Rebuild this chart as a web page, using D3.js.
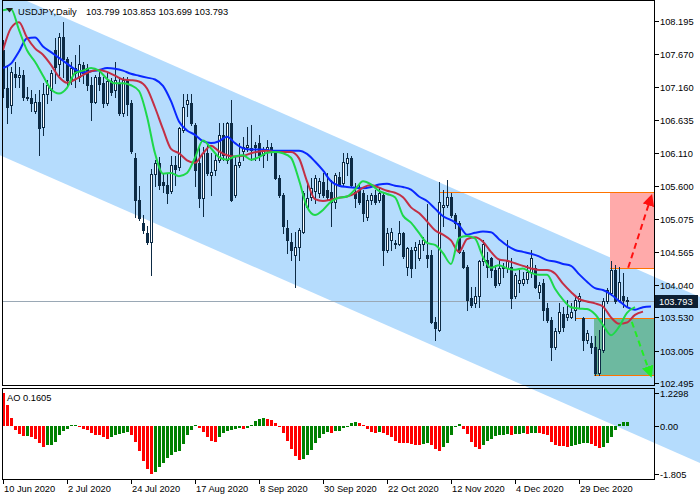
<!DOCTYPE html>
<html>
<head>
<meta charset="utf-8">
<script src="https://cdn.jsdelivr.net/npm/d3@7"></script>
<style>
  body { margin: 0; background: #fff; }
  svg { display: block; font-family: "Liberation Sans", Arial, sans-serif; font-size: 9.3px; }
</style>
</head>
<body>
<div id="chart"></div>
<script>
// USDJPY daily bars, 10 Jun 2020 .. mid Jan 2021 (one value per bar)
const open = [
  107.73,107.13,106.87,107.35,107.31,107.34,107.00,106.98,106.77,106.92,
  106.53,107.05,107.10,107.73,107.52,107.94,107.60,107.26,107.45,107.31,
  107.50,107.45,107.18,106.92,107.31,107.21,106.90,107.24,107.10,107.21,
  106.74,107.26,106.90,106.03,105.38,105.01,104.85,104.72,105.79,105.95,
  105.66,105.61,105.51,105.93,105.90,106.48,106.88,106.90,106.555,105.95,
  105.40,106.11,105.77,105.85,106.00,106.40,106.00,106.58,105.45,105.93,
  106.14,106.21,106.19,106.24,106.27,106.08,106.16,106.21,106.14,105.72,
  105.45,104.93,104.72,104.51,104.64,104.88,105.27,105.43,105.51,105.48,
  105.66,105.53,105.50,105.35,105.74,105.64,105.95,106.03,105.50,105.53,
  105.48,105.11,105.38,105.45,105.38,105.45,104.59,104.75,104.70,104.69,
  104.85,104.33,104.59,104.59,104.46,104.69,104.51,104.51,103.46,103.33,
  105.27,105.30,105.43,105.14,105.01,104.56,104.33,103.83,103.75,103.86,
  104.41,104.43,104.46,104.275,104.07,104.30,104.30,104.33,103.86,104.07,
  104.07,104.14,104.25,104.30,103.93,104.07,103.67,103.49,103.07,103.31,
  103.59,103.54,103.54,103.65,103.78,103.52,103.17,103.12,103.07,102.65,
  103.02,103.78,103.91,104.275,103.80,103.86,103.799
];
const high = [
  107.89,107.50,107.47,107.55,107.47,107.42,107.16,107.11,107.05,107.11,
  107.21,107.26,107.42,107.92,108.00,108.18,107.63,107.55,107.66,107.81,
  107.55,107.52,107.31,107.34,107.40,107.31,107.37,107.29,107.55,107.29,
  107.31,107.31,106.95,106.11,105.59,105.14,104.96,105.87,106.00,106.05,
  105.80,105.80,106.06,106.06,106.53,107.05,107.05,107.05,106.58,106.21,
  106.21,106.24,106.11,106.11,106.58,106.58,106.61,106.95,106.06,106.27,
  106.37,106.53,106.555,106.29,106.40,106.21,106.32,106.27,106.16,105.77,
  105.48,105.06,104.85,104.88,104.93,105.51,105.64,105.72,105.77,105.72,
  105.80,105.80,105.69,105.80,105.82,106.11,106.11,106.06,105.64,105.64,
  105.53,105.45,105.48,105.53,105.56,105.48,104.93,104.93,104.74,105.04,
  104.88,104.64,104.64,104.72,104.75,104.80,105.32,104.59,103.54,105.66,
  105.53,105.69,105.48,105.17,105.04,104.59,104.35,104.01,104.01,104.43,
  104.75,104.56,104.485,104.35,104.43,104.38,104.75,104.46,104.22,104.30,
  104.25,104.35,104.59,104.35,104.09,104.14,103.75,103.54,103.36,103.75,
  103.70,103.80,103.75,103.86,103.91,103.54,103.33,103.23,103.23,103.33,
  103.83,103.99,104.41,104.35,104.33,104.22,103.853
];
const low = [
  107.00,106.58,106.74,107.16,107.16,106.95,106.95,106.77,106.74,106.08,
  106.40,106.90,106.95,107.21,107.34,107.31,107.16,107.20,107.16,107.24,
  107.21,107.11,106.63,106.90,107.10,106.84,106.87,107.03,107.00,106.71,
  106.69,106.71,106.11,105.11,105.06,104.85,104.69,104.20,105.59,105.55,
  105.50,105.33,105.48,105.61,105.85,106.45,106.69,106.555,105.59,105.27,
  105.12,105.77,105.45,105.77,105.98,106.00,105.95,105.36,105.43,105.90,
  106.00,106.14,106.00,106.00,106.00,105.90,106.00,106.08,105.70,105.42,
  104.85,104.54,104.43,104.01,104.43,104.85,105.25,105.38,105.33,105.43,
  105.43,105.38,104.96,105.25,105.59,105.61,105.77,105.59,105.27,105.32,
  105.04,105.06,105.32,105.32,105.35,104.35,104.56,104.59,104.62,104.67,
  104.46,104.20,104.17,104.30,104.43,104.59,104.33,103.44,103.18,103.31,
  104.96,105.27,105.11,104.93,104.54,104.30,103.65,103.70,103.70,103.70,
  104.35,104.17,104.17,104.01,104.04,104.17,104.25,103.67,103.83,103.93,
  104.04,104.07,104.17,103.99,103.83,103.49,103.46,102.86,103.04,103.28,
  103.31,103.49,103.52,103.49,103.70,103.02,103.12,102.97,102.62,102.62,
  102.99,103.75,103.88,103.75,103.78,103.70,103.699
];
const close = [
  107.13,106.84,107.39,107.31,107.34,107.00,106.98,106.90,106.92,106.50,
  107.05,107.18,107.37,107.47,107.94,107.60,107.26,107.45,107.37,107.52,
  107.38,107.18,106.92,107.31,107.20,106.90,107.24,107.08,107.26,106.74,
  107.26,106.88,106.14,105.38,105.09,104.90,104.72,105.79,105.95,105.61,
  105.61,105.48,105.93,105.87,106.50,106.84,106.95,106.58,105.85,105.40,
  106.11,105.80,105.82,106.00,106.40,106.08,106.58,105.38,105.93,105.98,
  106.21,106.24,106.16,106.21,106.08,106.16,106.21,106.16,105.72,105.45,
  104.96,104.75,104.59,104.64,104.90,105.48,105.40,105.56,105.72,105.67,
  105.45,105.43,105.35,105.77,105.61,105.98,106.03,105.61,105.40,105.35,
  105.17,105.38,105.45,105.35,105.48,104.59,104.85,104.88,104.69,104.85,
  104.49,104.62,104.30,104.64,104.69,104.75,104.46,103.46,103.36,105.35,
  105.30,105.43,105.14,105.01,104.56,104.33,103.80,103.73,103.86,104.41,
  104.69,104.33,104.275,104.04,104.30,104.33,104.41,103.83,104.20,104.12,
  104.14,104.25,104.46,104.01,104.04,103.65,103.49,103.07,103.31,103.62,
  103.38,103.59,103.62,103.80,103.86,103.17,103.28,103.07,102.65,103.04,
  103.78,103.96,104.275,103.78,104.09,103.80,103.793
];

// Alligator lines as drawn (already shifted), one value every 2 bars from bar 0
const jaw = [
  107.45,107.52,107.71,107.92,107.93,107.79,107.70,107.61,107.52,107.43,107.38,
  107.40,107.42,107.45,107.44,107.41,107.36,107.33,107.30,107.27,107.17,
  106.93,106.61,106.47,106.40,106.30,106.27,106.30,106.37,106.27,106.19,
  106.17,106.17,106.16,106.15,106.15,106.15,106.15,106.10,105.98,105.84,
  105.67,105.60,105.58,105.57,105.56,105.58,105.62,105.63,105.60,105.58,
  105.54,105.43,105.36,105.24,105.12,105.06,104.98,104.83,104.86,104.88,
  104.87,104.76,104.66,104.59,104.56,104.53,104.49,104.43,104.41,104.37,
  104.34,104.21,104.09,103.99,103.96,103.89,103.79,103.69,103.65,103.69,103.70
];
const teeth = [
  107.73,108.08,108.17,107.93,107.76,107.66,107.50,107.31,107.22,107.27,107.34,
  107.40,107.42,107.39,107.33,107.27,107.26,107.24,107.13,106.83,106.49,
  106.18,106.11,106.00,105.96,106.11,106.23,106.14,106.08,106.06,106.07,
  106.11,106.14,106.15,106.13,106.13,106.13,106.03,105.67,105.39,105.36,
  105.38,105.41,105.43,105.48,105.57,105.61,105.57,105.52,105.49,105.42,
  105.26,105.17,105.04,104.90,104.83,104.74,104.56,104.76,104.79,104.72,
  104.56,104.44,104.42,104.38,104.34,104.30,104.275,104.275,104.22,104.06,
  103.93,103.82,103.78,103.75,103.70,103.53,103.43,103.45,103.57,103.62
];
const lips = [
  108.36,108.38,108.05,107.73,107.55,107.33,107.12,107.05,107.14,107.37,107.41,
  107.45,107.41,107.28,107.21,107.21,107.18,107.09,106.69,106.11,105.79,
  105.80,105.75,105.80,106.04,106.31,106.19,106.05,106.01,106.06,106.08,
  106.01,106.05,106.12,106.13,106.11,106.04,105.69,105.27,105.14,105.22,
  105.35,105.41,105.43,105.54,105.67,105.62,105.52,105.47,105.42,105.13,
  105.02,104.86,104.70,104.67,104.54,104.37,104.78,104.81,104.77,104.48,
  104.31,104.35,104.30,104.28,104.30,104.23,104.20,104.20,103.98,103.81,
  103.69,103.67,103.66,103.58,103.41,103.25,103.38,103.60,103.69
];
const MA_STEP = 2;

// Awesome Oscillator, one value per bar
const ao = [
  1.2298,0.78,0.31,-0.15,-0.30,-0.37,-0.36,-0.42,-0.50,-0.65,
  -0.77,-0.72,-0.70,-0.59,-0.35,-0.17,-0.10,0.02,0.025,-0.02,
  -0.10,-0.15,-0.25,-0.32,-0.35,-0.40,-0.47,-0.40,-0.32,-0.31,
  -0.25,-0.22,-0.34,-0.59,-0.92,-1.30,-1.62,-1.805,-1.71,-1.54,
  -1.37,-1.20,-1.07,-0.97,-0.92,-0.67,-0.35,-0.15,0.05,-0.06,
  -0.24,-0.40,-0.56,-0.60,-0.42,-0.25,-0.20,-0.15,-0.10,-0.06,
  -0.12,-0.07,0.05,0.19,0.26,0.30,0.26,0.21,0.12,-0.04,
  -0.25,-0.57,-0.85,-1.12,-1.27,-1.23,-1.10,-0.90,-0.65,-0.45,
  -0.30,-0.24,-0.25,-0.20,-0.17,-0.09,-0.03,0.10,0.14,0.10,
  0.02,-0.10,-0.24,-0.25,-0.21,-0.27,-0.35,-0.42,-0.55,-0.62,
  -0.63,-0.65,-0.68,-0.70,-0.72,-0.67,-0.62,-0.72,-0.87,-0.92,
  -0.77,-0.65,-0.35,-0.02,0.06,-0.12,-0.30,-0.59,-0.77,-0.86,
  -0.72,-0.57,-0.47,-0.37,-0.35,-0.32,-0.31,-0.34,-0.31,-0.29,
  -0.27,-0.30,-0.28,-0.26,-0.28,-0.30,-0.33,-0.58,-0.70,-0.74,
  -0.76,-0.80,-0.74,-0.70,-0.66,-0.63,-0.62,-0.68,-0.76,-0.81,
  -0.78,-0.62,-0.42,-0.15,0.06,0.15,0.1605
];

// axis labels
const dateTickBars = [0, 16, 32, 48, 64, 80, 96, 112, 128, 144];
const dateLabels = ["10 Jun 2020", "2 Jul 2020", "24 Jul 2020", "17 Aug 2020", "8 Sep 2020",
                    "30 Sep 2020", "22 Oct 2020", "12 Nov 2020", "4 Dec 2020", "29 Dec 2020"];
const priceTicks = ["108.195", "107.670", "107.160", "106.635", "106.110", "105.600",
                    "105.075", "104.565", "104.040", "103.530", "103.005", "102.495"];
const aoTicks = ["1.2298", "0.00", "-1.805"];

// drawn objects: channel, levels, zones, arrows (bar index, price)
const channelUpper = [[0, 108.67], [162, 104.19]];
const channelWidth = 2.61;
const levelPrices = [105.50, 104.30, 103.52, 102.62];
const levelStarts = [109, 151.75, 143, 147.75];
const zoneStarts = [151.75, 147.75];
const zoneTops = [105.50, 103.52];
const zoneBottoms = [104.30, 102.62];
const arrowFrom = [[156.3, 104.31], [157.2, 103.46]];
const arrowTo = [[161.9, 105.40], [161.75, 102.65]];

const symbol = "USDJPY,Daily";
const lastPrice = close[close.length - 1];

// ---------------------------------------------------------------
const W = 700, H = 500;
const right = 654.5, left = 2.5;
const mainBottom = 385.5, aoTop = 388.5, aoBottom = 479.5;
const candleColor = "#0d2b45";

const x = d3.scaleLinear().domain([0, 163]).range([3, 655]);
const y = d3.scaleLinear().domain([102.495, 108.195]).range([383.2, 20.7]);
const yAo = d3.scaleLinear().domain([-1.805, 1.2298]).range([474.4, 393]);

const svg = d3.select("#chart").append("svg")
    .attr("width", W)
    .attr("height", H);

svg.append("rect").attr("width", W).attr("height", H).attr("fill", "#fff");

const defs = svg.append("defs");
defs.append("clipPath").attr("id", "mainClip")
  .append("rect").attr("x", 3).attr("y", 1).attr("width", 651).attr("height", 384);
[["arrRed", "#ff1010"], ["arrGreen", "#22ee22"]].forEach(([id, col]) => {
  defs.append("marker")
      .attr("id", id)
      .attr("viewBox", "0 0 10 10")
      .attr("refX", 6).attr("refY", 5)
      .attr("markerWidth", 12).attr("markerHeight", 12)
      .attr("markerUnits", "userSpaceOnUse")
      .attr("orient", "auto")
    .append("path")
      .attr("d", "M0,0 L10,5 L0,10 Z")
      .attr("fill", col);
});

// Regression channel, runs across the whole window
const slope = (channelUpper[1][1] - channelUpper[0][1]) / (channelUpper[1][0] - channelUpper[0][0]);
const upperAt = i => channelUpper[0][1] + slope * (i - channelUpper[0][0]);
const iA = x.invert(-20), iB = x.invert(W + 20);
const chan = [[iA, upperAt(iA)], [iB, upperAt(iB)], [iB, upperAt(iB) - channelWidth], [iA, upperAt(iA) - channelWidth]];
svg.append("path")
    .attr("d", d3.line().x(d => x(d[0])).y(d => y(d[1]))(chan) + "Z")
    .attr("fill", "#b5dcfd");

const main = svg.append("g").attr("clip-path", "url(#mainClip)");

// target zones
const zoneColors = ["#ffaaaa", "#6db9a0"];
main.selectAll("rect.zone")
  .data(zoneStarts)
  .join("rect")
    .attr("class", "zone")
    .attr("x", d => x(d))
    .attr("width", d => right - x(d))
    .attr("y", (d, k) => y(zoneTops[k]))
    .attr("height", (d, k) => y(zoneBottoms[k]) - y(zoneTops[k]))
    .attr("fill", (d, k) => zoneColors[k]);

// horizontal levels
main.selectAll("line.level")
  .data(levelPrices)
  .join("line")
    .attr("class", "level")
    .attr("x1", (d, k) => x(levelStarts[k]))
    .attr("x2", right)
    .attr("y1", d => Math.round(y(d)) + 0.5)
    .attr("y2", d => Math.round(y(d)) + 0.5)
    .attr("stroke", "#ff7300")
    .attr("stroke-width", 1.2);

// last price line
main.append("line")
    .attr("x1", 3).attr("x2", right)
    .attr("y1", Math.round(y(lastPrice)) + 0.5)
    .attr("y2", Math.round(y(lastPrice)) + 0.5)
    .attr("stroke", "#9aa8b5")
    .attr("stroke-width", 1);

// candles
const bars = close.map((c, i) => ({ i, o: open[i], h: high[i], l: low[i], c }));
const px = i => Math.round(x(i));
main.selectAll("line.wick")
  .data(bars)
  .join("line")
    .attr("class", "wick")
    .attr("x1", d => px(d.i) + 0.5)
    .attr("x2", d => px(d.i) + 0.5)
    .attr("y1", d => Math.round(y(d.h)))
    .attr("y2", d => Math.round(y(d.l)) + 1)
    .attr("stroke", candleColor)
    .attr("shape-rendering", "crispEdges");
main.selectAll("path.body")
  .data(bars)
  .join("path")
    .attr("class", "body")
    .attr("d", d => {
      const t = Math.round(y(Math.max(d.o, d.c))) + 0.5;
      const b = Math.round(y(Math.min(d.o, d.c))) + 0.5;
      const l = px(d.i) - 0.5;
      return `M${l},${t}h2V${b}h-2Z`;
    })
    .attr("fill", d => d.c > d.o ? "#fff" : candleColor)
    .attr("stroke", candleColor)
    .attr("shape-rendering", "crispEdges");

// Alligator
const maLine = d3.line()
    .x((d, k) => x(k * MA_STEP))
    .y(d => y(d))
    .curve(d3.curveMonotoneX);
[[jaw, "#0a28ff"], [teeth, "#c32f45"], [lips, "#1ed84a"]].forEach(([vals, col]) => {
  main.append("path")
      .attr("d", maLine(vals))
      .attr("fill", "none")
      .attr("stroke", col)
      .attr("stroke-width", 2);
});

// forecast arrows
const arrowColors = ["#ff1010", "#22ee22"];
const arrowIds = ["arrRed", "arrGreen"];
main.selectAll("line.arrow")
  .data(arrowFrom)
  .join("line")
    .attr("class", "arrow")
    .attr("x1", d => x(d[0]))
    .attr("y1", d => y(d[1]))
    .attr("x2", (d, k) => x(arrowTo[k][0]))
    .attr("y2", (d, k) => y(arrowTo[k][1]))
    .attr("stroke", (d, k) => arrowColors[k])
    .attr("stroke-width", 2)
    .attr("stroke-dasharray", "6,4")
    .attr("marker-end", (d, k) => `url(#${arrowIds[k]})`);

// AO histogram
svg.append("g").selectAll("rect")
  .data(ao)
  .join("rect")
    .attr("x", (d, i) => px(i) - 1)
    .attr("width", 3)
    .attr("y", d => Math.round(yAo(Math.max(d, 0))))
    .attr("height", d => Math.max(1, Math.round(yAo(Math.min(d, 0))) - Math.round(yAo(Math.max(d, 0)))))
    .attr("fill", (d, i) => i > 0 && d > ao[i - 1] ? "#008000" : "#ff0000")
    .attr("shape-rendering", "crispEdges");

// panel frames
const frames = svg.append("g").attr("fill", "none").attr("stroke", "#000").attr("shape-rendering", "crispEdges");
frames.append("rect").attr("x", left).attr("y", 0.5).attr("width", right - left).attr("height", mainBottom - 0.5);
frames.append("rect").attr("x", left).attr("y", aoTop).attr("width", right - left).attr("height", aoBottom - aoTop);

// price axis
const axis = svg.append("g").attr("fill", "#000");
priceTicks.forEach(t => {
  const yy = Math.round(y(+t)) + 0.5;
  axis.append("line").attr("x1", right).attr("x2", right + 4).attr("y1", yy).attr("y2", yy)
      .attr("stroke", "#000").attr("shape-rendering", "crispEdges");
  axis.append("text").attr("x", 660).attr("y", yy).attr("dy", "0.35em").text(t);
});
aoTicks.forEach(t => {
  const yy = Math.round(yAo(+t)) + 0.5;
  axis.append("line").attr("x1", right).attr("x2", right + 4).attr("y1", yy).attr("y2", yy)
      .attr("stroke", "#000").attr("shape-rendering", "crispEdges");
  axis.append("text").attr("x", 660).attr("y", yy).attr("dy", "0.35em").text(t);
});

// last price box
const ly = Math.round(y(lastPrice));
svg.append("rect").attr("x", 655).attr("y", ly - 6).attr("width", 43).attr("height", 13).attr("fill", "#0c1f33");
svg.append("text").attr("x", 659).attr("y", ly + 0.5).attr("dy", "0.35em").attr("fill", "#fff").text(lastPrice.toFixed(3));

// date axis
dateTickBars.forEach((b, k) => {
  const xx = px(b) + 0.5;
  axis.append("line").attr("x1", xx).attr("x2", xx).attr("y1", aoBottom).attr("y2", aoBottom + 4)
      .attr("stroke", "#000").attr("shape-rendering", "crispEdges");
  axis.append("text").attr("x", xx + 0.5).attr("y", 492).text(dateLabels[k]);
});

// header
svg.append("path").attr("d", "M6,8 L13,8 L9.5,12.5 Z").attr("fill", "#222");
svg.append("text").attr("x", 18).attr("y", 14.5).text(symbol);
svg.append("text").attr("x", 86).attr("y", 14.5)
    .text([open, high, low, close].map(a => a[a.length - 1].toFixed(3)).join(" "));
svg.append("text").attr("x", 7).attr("y", 400.5).text("AO " + ao[ao.length - 1]);
</script>
</body>
</html>
